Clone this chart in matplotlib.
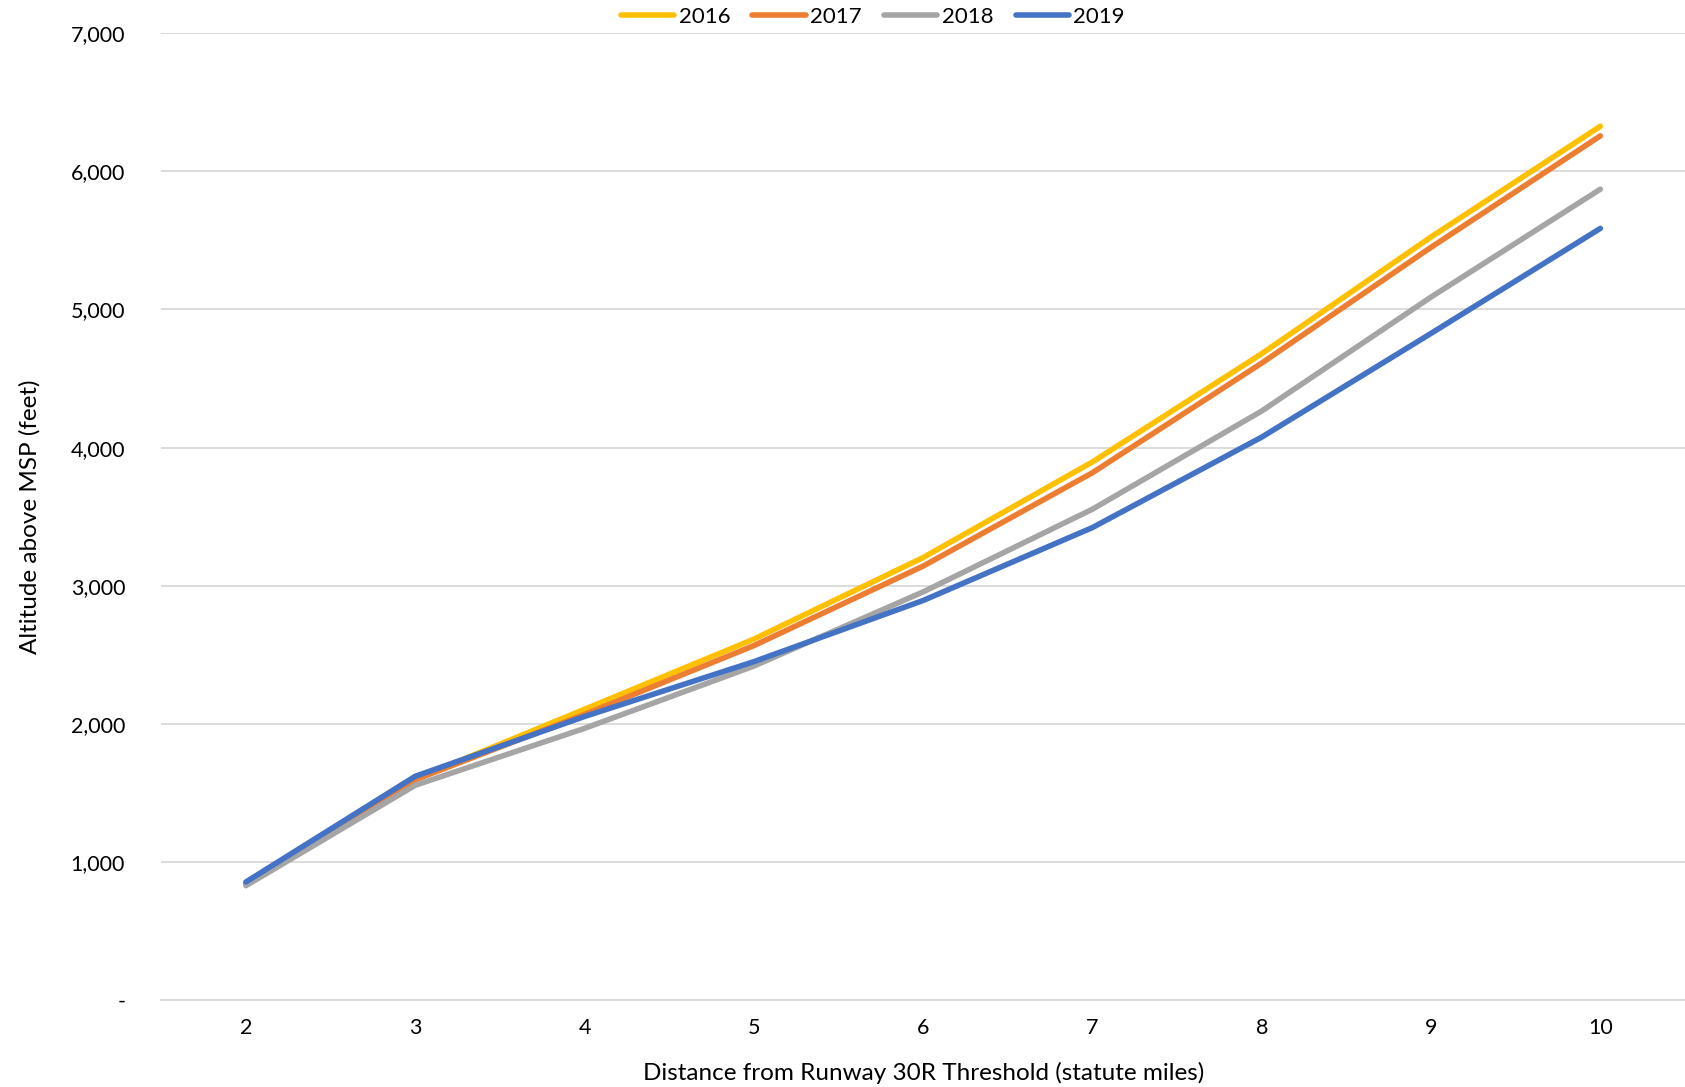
import matplotlib
matplotlib.use("Agg")
import matplotlib.pyplot as plt
import matplotlib.ticker as ticker

plt.rcParams["font.family"] = ["Lato", "DejaVu Sans"]

distance = [2, 3, 4, 5, 6, 7, 8, 9, 10]
years = ["2016", "2017", "2018", "2019"]
alt_2016 = [845, 1600, 2105, 2613, 3204, 3896, 4680, 5525, 6327]
alt_2017 = [845, 1595, 2068, 2566, 3142, 3818, 4612, 5450, 6257]
alt_2018 = [828, 1555, 1967, 2418, 2955, 3554, 4265, 5090, 5871]
alt_2019 = [855, 1620, 2053, 2450, 2893, 3421, 4076, 4827, 5587]
colors = ["#FFC000", "#ED7D31", "#A5A5A5", "#4472C4"]

fig = plt.figure(figsize=(16.85, 10.87), dpi=100)
ax = fig.add_axes([0.0957, 0.080, 0.9043, 0.8894])

for yr, vals, c in zip(years, [alt_2016, alt_2017, alt_2018, alt_2019], colors):
    ax.plot(distance, vals, color=c, lw=4, label=yr, solid_capstyle="round")

ax.set_xlim(1.5, 10.5)
ax.set_ylim(0, 7000)
ax.set_xticks(distance)
ax.set_yticks(range(0, 7001, 1000))
ax.yaxis.set_major_formatter(ticker.FuncFormatter(lambda v, _: "-" if v == 0 else f"{v:,.0f}"))
ax.grid(axis="y", color="#D9D9D9", lw=1.3)
ax.set_axisbelow(True)
for s in ["top", "right", "left"]:
    ax.spines[s].set_visible(False)
ax.spines["bottom"].set_color("#D9D9D9")
ax.spines["bottom"].set_linewidth(1.3)
ax.tick_params(axis="both", length=0, labelsize=15.5, colors="#000000")
ax.tick_params(axis="y", pad=26)
ax.tick_params(axis="x", pad=13)

ax.set_xlabel("Distance from Runway 30R Threshold (statute miles)", fontsize=17.5, labelpad=17)
ax.set_ylabel("Altitude above MSP (feet)", fontsize=17.5, labelpad=22)

ax.legend(loc="center", bbox_to_anchor=(0.467, 1.017), ncol=4, frameon=False,
          fontsize=16, handlelength=2.4, handletextpad=0.2, columnspacing=1.0,
          borderaxespad=0)

plt.savefig("out.png", dpi=100)
